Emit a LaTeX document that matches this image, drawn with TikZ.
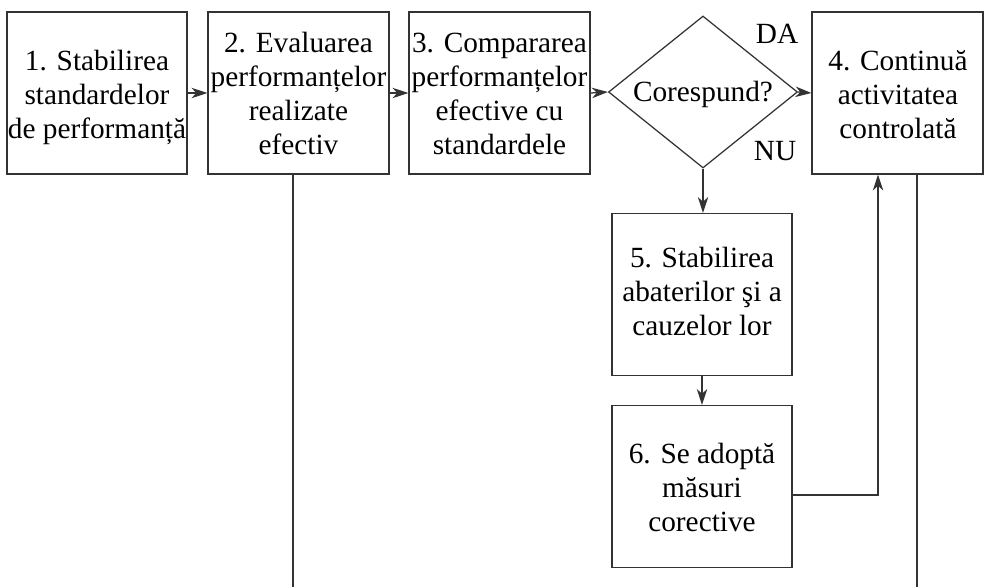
\documentclass[tikz,border=0pt]{standalone}
\usepackage{fontspec}
\setmainfont{Liberation Serif}
\usetikzlibrary{arrows.meta,shapes.geometric}

% fixed height for the first line, so every block of text hangs from a known top
\newcommand\firstline{\rule{0pt}{24pt}}

\tikzset{
  ink/.style={draw=black!80, line width=1.25pt},
  stepbox/.style={ink, rectangle, inner sep=0pt,
    minimum width=180pt, minimum height=162pt},
  decision/.style={ink, diamond, inner sep=0pt,
    minimum width=189pt, minimum height=152pt},
  boxtext/.style={inner sep=0pt, anchor=north, align=center,
    font=\fontsize{29.3}{34}\selectfont},
  word/.style={inner sep=0pt, anchor=base,
    font=\fontsize{29.3}{34}\selectfont},
  arr/.style={ink, -{Stealth[length=16pt, width=10.5pt, inset=5pt]}},
  wire/.style={ink}
}

\begin{document}
\begin{tikzpicture}[x=1pt, y=-1pt]
  \useasboundingbox (0,0) rectangle (984,587);

  % main row of steps
  \node[stepbox] (b1) at (97,93) {};
  \node[stepbox, minimum width=181pt] (b2) at (298.5,93) {};
  \node[stepbox, minimum width=181pt] (b3) at (499.5,93) {};
  \node[decision] (d) at (703,92) {};
  \node[stepbox, minimum width=171pt] (b4) at (897.5,93) {};

  % corrective branch
  \node[stepbox] (b5) at (702,294.5) {};
  \node[stepbox] (b6) at (702,486.5) {};

  % texts (placed by the baseline of their first line minus 24pt)
  \node[boxtext] (t1) at (97,46) {\firstline 1. Stabilirea\\standardelor\\de performanță};
  \node[boxtext] (t2) at (298.5,28) {\firstline 2. Evaluarea\\performanțelor\\realizate\\efectiv};
  \node[boxtext] (t3) at (499.5,28) {\firstline 3. Compararea\\performanțelor\\efective cu\\standardele};
  \node[boxtext] (t4) at (898,46) {\firstline 4. Continuă\\activitatea\\controlată};
  \node[boxtext] (t5) at (702,243.5) {\firstline 5. Stabilirea\\abaterilor şi a\\cauzelor lor};
  \node[boxtext] (t6) at (702,439) {\firstline 6. Se adoptă\\măsuri\\corective};

  \node[word] (q) at (703,101.5) {Corespund?};
  \node[word] (da) at (777,43) {DA};
  \node[word] (nu) at (775,160) {NU};

  % connector anchors
  \coordinate (e2) at (293,587);
  \coordinate (e4) at (917,587);
  \coordinate (c6) at (878,495);

  % arrows along the main row
  \draw[arr] (b1.east) -- (b2.west);
  \draw[arr] (b2.east) -- (b3.west);
  \draw[arr] (b3.east) -- (d.west);
  \draw[arr] (d.east) -- (b4.west);

  % corrective path
  \draw[arr] (d.south) -- (d.south |- b5.north);
  \draw[arr] (b5.south) -- (b6.north);
  \draw[arr] (b6.east |- c6) -- (c6) -- (c6 |- b4.south);

  % lines running on below the figure
  \draw[wire] (b2.south -| e2) -- (e2);
  \draw[wire] (b4.south -| e4) -- (e4);
\end{tikzpicture}
\end{document}
